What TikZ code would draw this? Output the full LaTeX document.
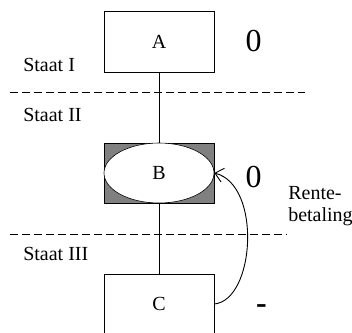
\documentclass[tikz,border=0pt]{standalone}
\usepackage{fontspec}
\setmainfont{Liberation Serif}
\usetikzlibrary{arrows.meta,shapes.geometric}
\tikzset{>=Stealth}
\tikzset{
  box/.style={draw, minimum width=110pt, minimum height=61pt, inner sep=0pt,
    font=\fontsize{20}{22}\selectfont},
  staat/.style={anchor=base west, inner sep=0pt, font=\fontsize{20}{22}\selectfont},
  waarde/.style={inner sep=0pt, font=\fontsize{32}{34}\selectfont},
  grens/.style={dash pattern=on 8pt off 4pt}
}

\begin{document}
\begin{tikzpicture}[x=1pt,y=-1pt,line width=0.6pt]
\useasboundingbox (0,0) rectangle (352,332);
% grenzen tussen de staten
\draw[grens] (10,92) -- (305,92);
\draw[grens] (10,234) -- (287,234);
\node[staat] (s1) at (23,71) {Staat I};
\node[staat] (s2) at (23,121) {Staat II};
\node[staat] (s3) at (23,260.5) {Staat III};

% posities
\node[box] (A) at (159,41.5) {A};
\node[box, fill=gray, minimum height=60pt] (B) at (159,173) {};
\node[ellipse, draw, fill=white, minimum width=110pt, minimum height=60pt,
  inner sep=0pt, font=\fontsize{20}{22}\selectfont] (Bin) at (B) {B};
\node[box, minimum height=60pt] (C) at (159,304) {C};
\draw (A) -- (B);
\draw (B) -- (C);

% rentebetaling
\draw[line width=0.9pt, -{Straight Barb[length=8pt,width=14pt]}] (C.east)
  .. controls (255,300) and (262,185) .. (B.east);
\node[staat, align=left] (rente) at (288,221) {Rente-\\betaling};

\node[waarde] (vA) at (253.5,41) {0};
\node[waarde] (vB) at (253.5,177) {0};
\node[waarde, font=\fontsize{32}{34}\selectfont\bfseries] (vC) at (261.5,309) {-};
\end{tikzpicture}
\end{document}
